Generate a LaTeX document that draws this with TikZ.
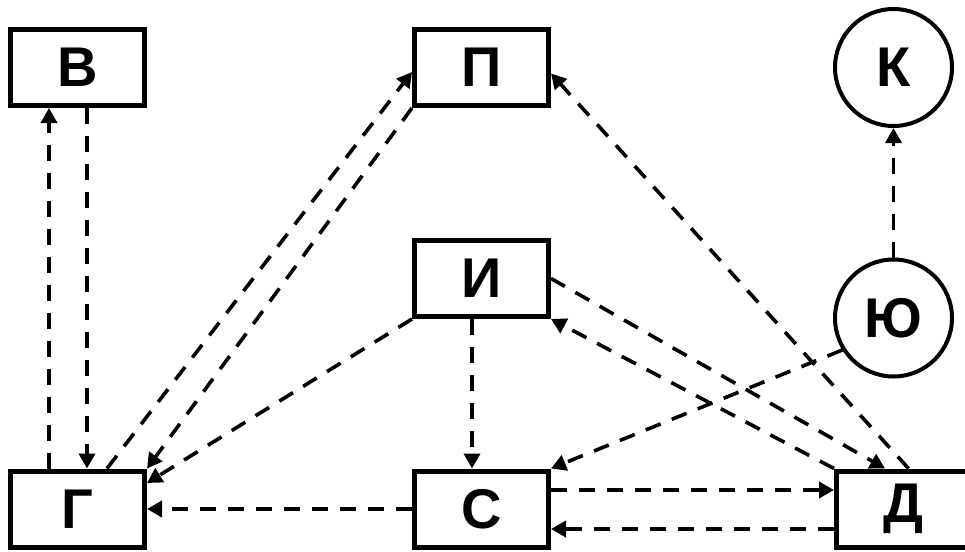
\documentclass[tikz,border=0pt]{standalone}
\usepackage{fontspec}
\setmainfont{Liberation Sans}
\usetikzlibrary{arrows.meta}
\begin{document}
\begin{tikzpicture}[x=1pt,y=-1pt,
  lbl/.style={font=\fontsize{56}{60}\selectfont\bfseries},
  boxnode/.style={lbl,draw,line width=5pt,minimum width=134pt,minimum height=76pt,inner sep=0pt},
  circnode/.style={lbl,draw,circle,line width=4pt,minimum size=117pt,inner sep=0pt},
  conn/.style={line width=3.6pt,dash pattern=on 16pt off 12pt,-{Triangle[length=15pt,width=16pt]}}]
\clip (0,0) rectangle (965,551);
\fill[white] (0,0) rectangle (965,551);
\node[boxnode] (B) at (77.5,67.5) {В};
\node[boxnode] (P) at (481.5,67.5) {П};
\node[circnode] (K) at (893.5,67.5) {К};
\node[boxnode] (I) at (481.5,278.5) {И};
\node[circnode] (Yu) at (893.5,318) {Ю};
\node[boxnode] (G) at (77.5,509) {Г};
\node[boxnode] (S) at (481.5,509) {С};
\node[boxnode] (D) at (903.5,509) {Д};
% Г <-> В
\draw[conn] ([xshift=-28.5pt]G.north) -- ([xshift=-28.5pt]B.south);
\draw[conn] ([xshift=9.5pt]B.south) -- ([xshift=9.5pt]G.north);
% Г <-> П
\draw[conn] ([xshift=29.5pt]G.north) -- ([yshift=-4.5pt]P.west);
\draw[conn] (P.south west) -- (G.north east);
% И -> Г, С -> Г
\draw[conn] (I.south west) -- ([yshift=26pt]G.east);
\draw[conn] (S.west) -- (G.east);
% И -> С
\draw[conn] ([xshift=-9.5pt]I.south) -- ([xshift=-9.5pt]S.north);
% Д -> П
\draw[conn] ([xshift=5pt]D.north) -- ([yshift=-6pt]P.east);
% И <-> Д
\draw[conn] (I.east) -- ([xshift=-18.5pt]D.north);
\draw[conn] (D.north west) -- (I.south east);
% Ю -> С, Ю -> К
\draw[conn] (Yu.212) -- (S.north east);
\draw[conn] (Yu.north) -- (K.south);
% С <-> Д
\draw[conn] ([yshift=19pt]S.east) -- ([yshift=19pt]D.west);
\draw[conn] ([yshift=-20pt]D.west) -- ([yshift=-20pt]S.east);
\end{tikzpicture}
\end{document}
